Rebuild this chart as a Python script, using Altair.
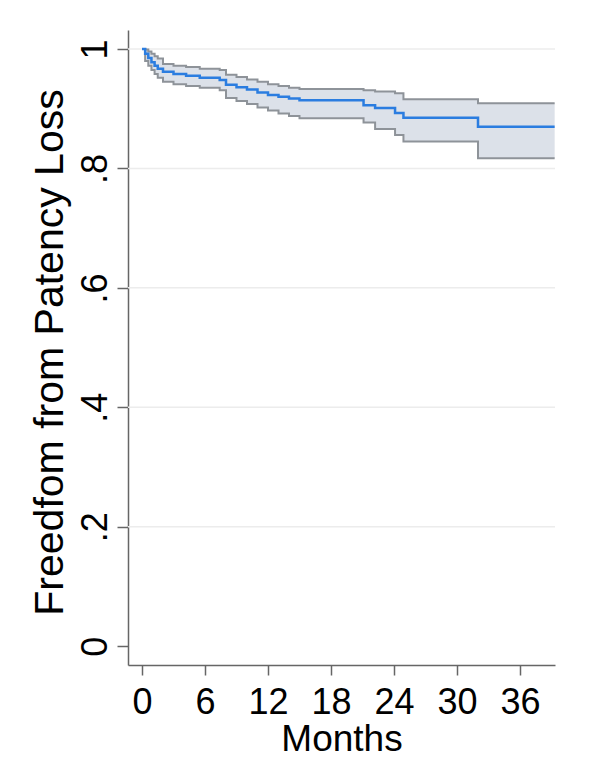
import altair as alt
import pandas as pd

# Kaplan-Meier estimate (step function)
months = [0, 0.3, 0.6, 0.9, 1.2, 1.5, 2.0, 3.0, 4.2, 5.5, 7.4, 8.0, 9.0, 10.0,
          11.0, 12.0, 13.0, 14.0, 15.0, 21.1, 22.2, 24.1, 24.9, 32.0, 39.3]
surv = [1.0, 0.992, 0.985, 0.978, 0.972, 0.967, 0.962, 0.958, 0.955, 0.952,
        0.948, 0.940, 0.936, 0.932, 0.927, 0.923, 0.920, 0.917, 0.914, 0.906,
        0.901, 0.893, 0.885, 0.870, 0.870]
upper = [1.0, 0.999, 0.996, 0.992, 0.988, 0.984, 0.975, 0.972, 0.970, 0.967,
         0.965, 0.957, 0.953, 0.949, 0.945, 0.941, 0.938, 0.935, 0.933, 0.931,
         0.929, 0.926, 0.916, 0.909, 0.909]
lower = [1.0, 0.980, 0.972, 0.965, 0.958, 0.952, 0.945, 0.941, 0.938, 0.935,
         0.931, 0.918, 0.913, 0.908, 0.902, 0.897, 0.892, 0.888, 0.884, 0.877,
         0.866, 0.856, 0.845, 0.817, 0.817]

x_ticks = [0, 6, 12, 18, 24, 30, 36]
y_ticks = [0, 0.2, 0.4, 0.6, 0.8, 1.0]
grid_values = [0.2, 0.4, 0.6, 0.8, 1.0]

df = pd.DataFrame({"month": months, "surv": surv, "hi": upper, "lo": lower})
grid_df = pd.DataFrame({"g": grid_values})

NARROW = "Liberation Sans Narrow, Arial Narrow, Liberation Sans, Arial, sans-serif"
REG = "Liberation Sans, Arial, Helvetica, sans-serif"

xscale = alt.Scale(domain=[-1.333, 39.333], nice=False, zero=False)
yscale = alt.Scale(domain=[-0.0315, 1.0318], nice=False, zero=False)

xaxis = alt.Axis(values=x_ticks, grid=False, labelFont=NARROW, labelFontSize=36,
                 labelColor="black", labelBaseline="alphabetic", labelPadding=38,
                 labelOverlap=False, tickSize=10, tickColor="#666", tickWidth=1.5,
                 domainColor="#666", domainWidth=1.5,
                 title="Months", titleFont=NARROW, titleFontSize=37,
                 titleFontWeight="normal", titleColor="black",
                 titleBaseline="alphabetic", titleAlign="center",
                 titleX=213.5, titleY=85)

yaxis = alt.Axis(values=y_ticks, grid=False,
                 labelExpr="datum.value == 0 ? '0' : (datum.value == 1 ? '1' : replace(format(datum.value, '.1f'), '0.', '.'))",
                 labelFont=REG, labelFontSize=36, labelColor="black",
                 labelAngle=270, labelAlign="center", labelBaseline="alphabetic",
                 labelPadding=11, labelOverlap=False,
                 tickSize=11, tickColor="#666", tickWidth=1.5,
                 domainColor="#666", domainWidth=1.5,
                 title="Freedfom from Patency Loss", titleFont=REG, titleFontSize=41,
                 titleFontWeight="normal", titleColor="black", titleAngle=270,
                 titleAlign="center", titleBaseline="alphabetic",
                 titleX=-66, titleY=322)


def X(field):
    return alt.X(field, type="quantitative", scale=xscale, axis=xaxis)


def Y(field):
    return alt.Y(field, type="quantitative", scale=yscale, axis=yaxis)


grid = alt.Chart(grid_df).mark_rule(color="#ececec", strokeWidth=1.5).encode(y=Y("g"))

band = alt.Chart(df).mark_area(interpolate="step-after", color="#dce1e9", opacity=1).encode(
    x=X("month"), y=Y("lo"), y2="hi")

hi_line = alt.Chart(df).mark_line(interpolate="step-after", color="#8e9399", strokeWidth=2).encode(
    x=X("month"), y=Y("hi"))
lo_line = alt.Chart(df).mark_line(interpolate="step-after", color="#8e9399", strokeWidth=2).encode(
    x=X("month"), y=Y("lo"))
main = alt.Chart(df).mark_line(interpolate="step-after", color="#2b7de0", strokeWidth=2.5).encode(
    x=X("month"), y=Y("surv"))

chart = alt.layer(grid, band, hi_line, lo_line, main).properties(
    width=427, height=635,
    autosize=alt.AutoSizeParams(type="none"),
    padding={"left": 120, "top": 22, "right": 27, "bottom": 94},
    background="white",
).configure_view(stroke=None)

chart.save("out.html", embed_options={"renderer": "svg", "actions": False})
